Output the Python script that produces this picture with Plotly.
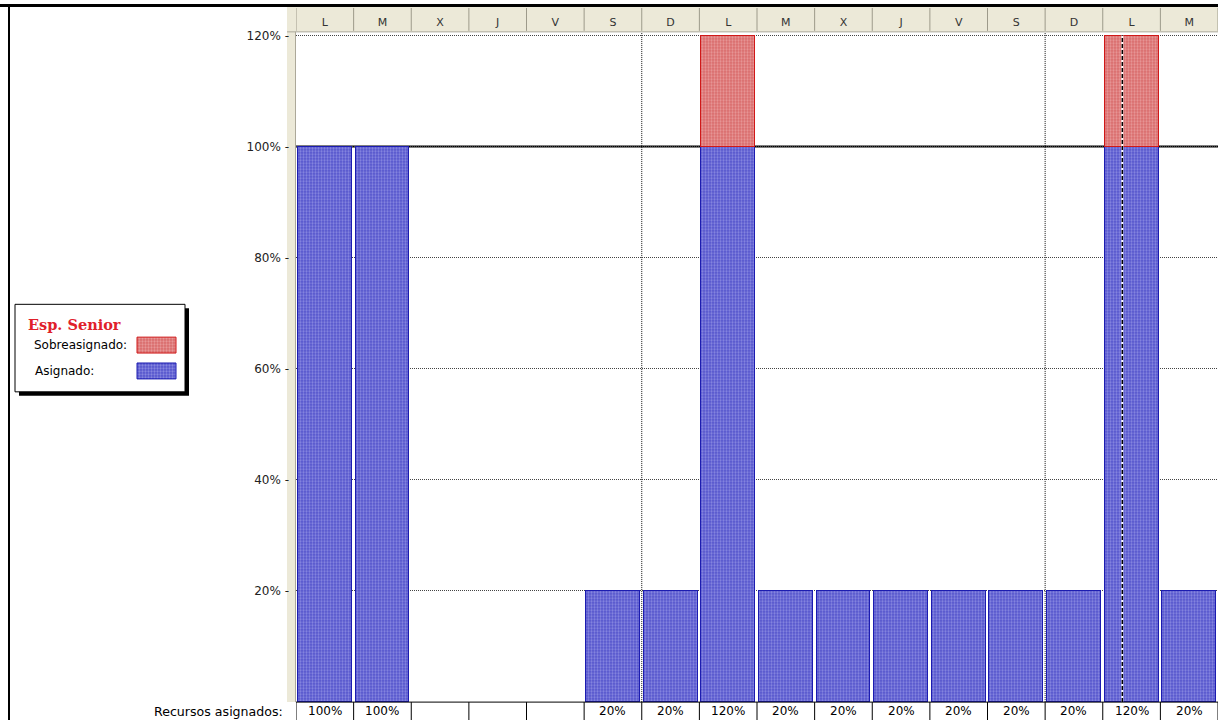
import plotly.graph_objects as go

# Daily allocation for the resource (percent of capacity)
days = ["L", "M", "X", "J", "V", "S", "D", "L", "M", "X", "J", "V", "S", "D", "L", "M"]
asignado_total = [100, 100, 0, 0, 0, 20, 20, 120, 20, 20, 20, 20, 20, 20, 120, 20]
capacidad = 100
y_ticks = [20, 40, 60, 80, 100, 120]
week_breaks = [5.5, 12.5]
hoy = 13.84

W, H = 1218, 720
idx = list(range(len(days)))
asignado = [min(v, capacidad) if v > 0 else None for v in asignado_total]
sobre = [v - capacidad if v > capacidad else None for v in asignado_total]
etiquetas = [f"{v}%" if v > 0 else "" for v in asignado_total]

FONT = "DejaVu Sans, Liberation Sans, Arial, sans-serif"
BLUE_BG, BLUE_FG, BLUE_LINE = "#5454cc", "#b8b8f2", "#1c1cb0"
RED_BG, RED_FG, RED_LINE = "#d86a6a", "#f6c4c4", "#d01818"

def px(x):
    return x / W

def py(y):
    return 1 - y / H

# plot area in pixels
L0, R0, T0, B0 = 296, 1218, 29, 702
y_top = 120.45

fig = go.Figure()

fig.add_trace(go.Bar(
    x=idx, y=asignado, width=0.935, name="Asignado",
    marker=dict(color=BLUE_BG, line=dict(color=BLUE_LINE, width=1),
                pattern=dict(shape=".", fgcolor=BLUE_FG, bgcolor=BLUE_BG, size=3, solidity=0.45)),
    showlegend=False, hoverinfo="skip"))
fig.add_trace(go.Bar(
    x=idx, y=sobre, width=0.935, name="Sobreasignado",
    marker=dict(color=RED_BG, line=dict(color=RED_LINE, width=1),
                pattern=dict(shape=".", fgcolor=RED_FG, bgcolor=RED_BG, size=3, solidity=0.45)),
    showlegend=False, hoverinfo="skip"))

# legend swatches on a pixel-space overlay axis
def swatch(x0, y0, x1, y1, bg, fg, line):
    fig.add_trace(go.Scatter(
        x=[x0, x1, x1, x0, x0], y=[y0, y0, y1, y1, y0], mode="lines",
        fill="toself", fillcolor=bg,
        fillpattern=dict(shape=".", fgcolor=fg, bgcolor=bg, size=3, solidity=0.45),
        line=dict(color=line, width=1), xaxis="x2", yaxis="y2",
        showlegend=False, hoverinfo="skip"))

shapes = []
# outer frame lines
shapes.append(dict(type="line", xref="paper", yref="paper", x0=0, x1=1, y0=py(1.5), y1=py(1.5),
                   line=dict(color="black", width=3), layer="above"))
shapes.append(dict(type="line", xref="paper", yref="paper", x0=px(9), x1=px(9), y0=0, y1=py(0),
                   line=dict(color="black", width=2), layer="above"))
# beige strip left of plot area
shapes.append(dict(type="rect", xref="paper", yref="paper", x0=px(287), x1=px(296), y0=py(B0), y1=py(3),
                   fillcolor="#ece9d8", line=dict(width=0), layer="below"))
shapes.append(dict(type="line", xref="paper", yref="paper", x0=px(295.5), x1=px(295.5), y0=py(B0), y1=py(3),
                   line=dict(color="#aca899", width=1), layer="below"))
# header band
shapes.append(dict(type="rect", xref="paper", yref="paper", x0=px(287), x1=1, y0=py(28), y1=py(3),
                   fillcolor="#ece9d8", line=dict(width=0), layer="below"))
shapes.append(dict(type="line", xref="paper", yref="paper", x0=px(287), x1=1, y0=py(28), y1=py(28),
                   line=dict(color="#aca899", width=1), layer="below"))
for b in range(len(days) + 1):
    shapes.append(dict(type="line", xref="x", yref="paper", x0=b - 0.5, x1=b - 0.5, y0=py(27), y1=py(4),
                       line=dict(color="#9d9a8a", width=1), layer="below"))
# week separators
for wb in week_breaks:
    shapes.append(dict(type="line", xref="x", yref="y", x0=wb, x1=wb, y0=0, y1=y_top,
                       line=dict(color="#111", width=1, dash="1px,1px"), layer="below"))
# capacity line
shapes.append(dict(type="line", xref="paper", yref="y", x0=px(L0), x1=1, y0=capacidad, y1=capacidad,
                   line=dict(color="black", width=2), layer="below"))
# current-date marker
shapes.append(dict(type="line", xref="x", yref="y", x0=hoy, x1=hoy, y0=0, y1=120,
                   line=dict(color="white", width=2), layer="above"))
shapes.append(dict(type="line", xref="x", yref="y", x0=hoy, x1=hoy, y0=0, y1=120,
                   line=dict(color="black", width=1.5, dash="4px,2px"), layer="above"))
# bottom table
shapes.append(dict(type="line", xref="paper", yref="paper", x0=px(L0), x1=1, y0=py(B0), y1=py(B0),
                   line=dict(color="black", width=1), layer="above"))
for b in range(len(days) + 1):
    shapes.append(dict(type="line", xref="x", yref="paper", x0=b - 0.5, x1=b - 0.5, y0=0, y1=py(B0),
                       line=dict(color="black", width=1), layer="above"))
# legend box with shadow
shapes.append(dict(type="rect", xref="paper", yref="paper", x0=px(19), x1=px(189), y0=py(394), y1=py(306),
                   fillcolor="black", line=dict(width=0), layer="below"))
shapes.append(dict(type="rect", xref="paper", yref="paper", x0=px(15), x1=px(185), y0=py(390), y1=py(302),
                   fillcolor="white", line=dict(color="black", width=1), layer="below"))

swatch(137, 335, 176, 351, RED_BG, RED_FG, RED_LINE)
swatch(137, 361, 176, 377, BLUE_BG, BLUE_FG, BLUE_LINE)

annotations = []
annotations.append(dict(xref="paper", yref="paper", x=px(26), y=py(322), text="<b>Esp. Senior</b>",
                        showarrow=False, xanchor="left", yanchor="middle",
                        font=dict(family="DejaVu Serif, Liberation Serif, serif", size=14.5, color="#e0202a")))
annotations.append(dict(xref="paper", yref="paper", x=px(32), y=py(343), text="Sobreasignado:",
                        showarrow=False, xanchor="left", yanchor="middle",
                        font=dict(family=FONT, size=12, color="black")))
annotations.append(dict(xref="paper", yref="paper", x=px(33), y=py(369), text="Asignado:",
                        showarrow=False, xanchor="left", yanchor="middle",
                        font=dict(family=FONT, size=12, color="black")))
annotations.append(dict(xref="paper", yref="paper", x=px(285), y=py(711), text="Recursos asignados:",
                        showarrow=False, xanchor="right", yanchor="middle",
                        font=dict(family=FONT, size=12.6, color="black")))
for i, t in zip(idx, etiquetas):
    if t:
        annotations.append(dict(xref="x", yref="paper", x=i, y=py(711), text=t, showarrow=False,
                                xanchor="center", yanchor="middle",
                                font=dict(family=FONT, size=12, color="black")))

fig.update_layout(
    width=W, height=H,
    margin=dict(l=0, r=0, t=0, b=0),
    paper_bgcolor="white", plot_bgcolor="rgba(0,0,0,0)",
    barmode="stack", bargap=0,
    showlegend=False,
    shapes=shapes, annotations=annotations,
    xaxis=dict(domain=[px(L0), 1], range=[-0.5, len(days) - 0.5], side="top",
               tickmode="array", tickvals=idx, ticktext=days, ticks="",
               tickfont=dict(family=FONT, size=11, color="#333"),
               ticklabelstandoff=4, showgrid=False, zeroline=False, showline=False, fixedrange=True),
    yaxis=dict(domain=[1 - B0 / H, 1 - T0 / H], range=[0, y_top],
               tickmode="array", tickvals=y_ticks, ticktext=[f"{v}% -" for v in y_ticks], ticks="",
               tickfont=dict(family=FONT, size=12, color="#222"), ticklabelstandoff=6,
               showgrid=True, gridcolor="#444", griddash="1px,1px", gridwidth=1,
               zeroline=False, showline=False, fixedrange=True),
    xaxis2=dict(domain=[0, 1], range=[0, W], visible=False, anchor="y2", fixedrange=True),
    yaxis2=dict(domain=[0, 1], range=[H, 0], visible=False, anchor="x2", fixedrange=True),
)

fig.write_html("out.html")
